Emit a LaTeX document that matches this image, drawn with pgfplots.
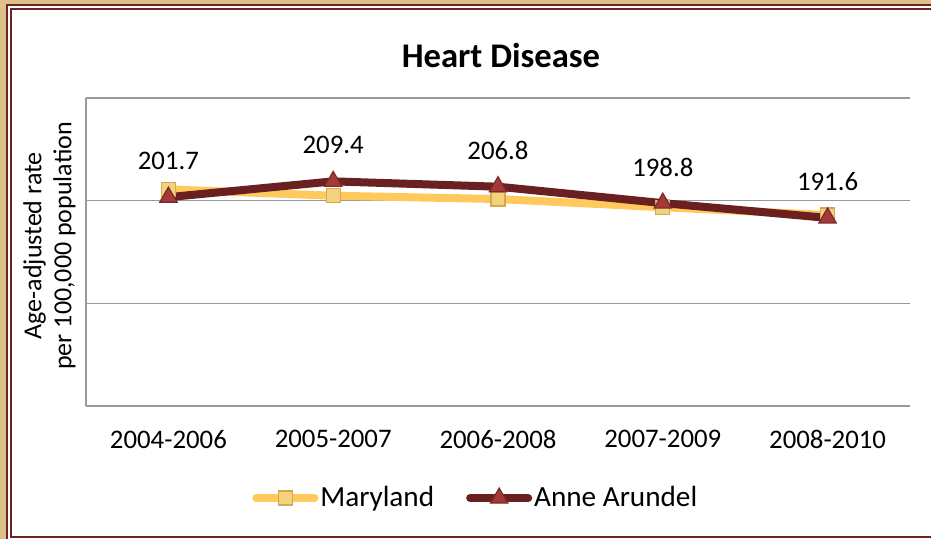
\documentclass[border=0pt]{standalone}
\usepackage{pgfplots}
\pgfplotsset{compat=1.18}
\usepackage{fontspec}
\setmainfont{Carlito}
\definecolor{bgtan}{HTML}{DCC28A}
\definecolor{framered}{HTML}{6E2222}
\definecolor{mdyel}{HTML}{FFC95E}
\definecolor{mdfill}{HTML}{F3D27E}
\definecolor{mdedge}{HTML}{D2A855}
\definecolor{aaline}{HTML}{6A2020}
\definecolor{aafill}{HTML}{A53838}
\definecolor{aaedge}{HTML}{7A2A2A}
\begin{document}
\begin{tikzpicture}[x=0.5pt,y=0.5pt]
\useasboundingbox (0,0) rectangle (931,539);
\fill[bgtan] (0,0) rectangle (931,539);
\fill[white] (6,-10) rectangle (945,535);
\draw[framered, line width=1.2pt] (7,-10) -- (7,534) -- (945,534);
\draw[framered, line width=1pt] (11,1.5) rectangle (945,529.5);
\node[font=\fontsize{17.3}{20}\selectfont\bfseries] at (501,484) {Heart Disease};
\begin{axis}[
  at={(43pt,66.5pt)}, anchor=south west,
  scale only axis, width=412pt, height=154pt,
  xmin=-0.5, xmax=4.5, ymin=100, ymax=250,
  axis lines*=left,
  axis line style={draw=gray!80, line width=0.6pt},
  ytick={100,150,200,250}, yticklabels={},
  ymajorgrids, grid style={draw=gray!80, line width=0.6pt},
  major tick length=0pt,
  xtick={0,1,2,3,4},
  xticklabels={2004-2006,2005-2007,2006-2008,2007-2009,2008-2010},
  xticklabel style={font=\fontsize{13.4}{15}\selectfont, yshift=-8.5pt},
  ylabel={Age-adjusted rate\\per 100,000 population},
  ylabel style={font=\fontsize{13}{15}\selectfont, align=center,
     at={(axis description cs:0,0.52)}, anchor=south, rotate=0, inner sep=5pt},
  /pgf/number format/assume math mode=true,
  legend columns=2,
  legend style={at={(0.473,-0.299)}, anchor=center, draw=none, fill=none,
     font=\fontsize{14.6}{16}\selectfont, nodes={inner sep=1pt},
     /tikz/every even column/.append style={column sep=15pt}},
  legend cell align=left,
  legend image code/.code={\draw[mark repeat=2, mark phase=2, line cap=round, #1] plot coordinates {(0pt,0pt) (14.5pt,0pt) (29pt,0pt)};},
  clip=false,
]
\addplot[color=mdyel, line width=4pt, mark=square*,
   mark options={fill=mdfill, draw=mdedge, line width=0.6pt, mark size=3.5pt}]
  coordinates {(0,205.5) (1,202.4) (2,200.8) (3,196.8) (4,193.0)};
\addlegendentry{Maryland}
\addplot[color=aaline, line width=4pt, mark=triangle*,
   mark options={fill=aafill, draw=aaedge, line width=0.6pt, mark size=5pt},
   nodes near coords={\pgfmathprintnumber[fixed,fixed zerofill,precision=1]{\pgfplotspointmeta}},
   every node near coord/.append style={font=\fontsize{13.4}{15}\selectfont, text=black, anchor=center, yshift=18pt}]
  coordinates {(0,201.7) (1,209.4) (2,206.8) (3,198.8) (4,191.6)};
\addlegendentry{Anne Arundel}
\end{axis}
\end{tikzpicture}
\end{document}
